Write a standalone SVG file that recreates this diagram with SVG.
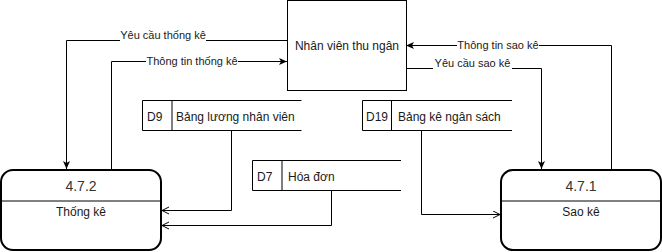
<svg xmlns="http://www.w3.org/2000/svg" width="662" height="252" viewBox="0 0 662 252">
  <style>
    text { font-family: "Liberation Sans", Arial, sans-serif; fill: #1a1a1a; }
    .lbl { font-size: 11px; text-anchor: middle; }
    .t12 { font-size: 12px; }
    .mid { text-anchor: middle; }
    .num { font-size: 14px; text-anchor: middle; fill: #333; }
    .proc { fill: #fff; stroke: #000; stroke-width: 2; }
    .box { fill: #fff; stroke: #000; stroke-width: 1; }
    .line { fill: none; stroke: #000; stroke-width: 1; }
    .flow { fill: none; stroke: #000; stroke-width: 1; marker-end: url(#solid); }
    .data { fill: none; stroke: #000; stroke-width: 1; marker-end: url(#open); }
    .bg { fill: #fff; }
  </style>
  <defs>
    <marker id="solid" markerUnits="userSpaceOnUse" markerWidth="10" markerHeight="10" refX="8" refY="3.5" orient="auto">
      <path d="M0,0 L8,3.5 L0,7 L2,3.5 Z" fill="#000"/>
    </marker>
    <marker id="open" markerUnits="userSpaceOnUse" markerWidth="10" markerHeight="10" refX="7.5" refY="4" orient="auto">
      <path d="M0.5,0.5 L7.5,4 L0.5,7.5" fill="none" stroke="#000" stroke-width="1"/>
    </marker>
  </defs>

  <!-- connectors -->
  <g id="connectors">
    <path class="flow" d="M287,40.5 H66.5 V169"/>
    <path class="flow" d="M111.5,169 V61.5 H287"/>
    <path class="flow" d="M611.5,169 V45.5 H406"/>
    <path class="flow" d="M406,68.5 H541.5 V169"/>
    <path class="data" d="M231.5,130.5 V210.5 H162"/>
    <path class="data" d="M331.5,190.5 V225.5 H162"/>
    <path class="data" d="M421.5,130.5 V214.5 H500"/>
    <rect class="bg" x="120" y="33" width="86" height="13"/>
    <text class="lbl" x="163" y="38.5">Yêu cầu thống kê</text>
    <rect class="bg" x="146" y="55" width="92" height="13"/>
    <text class="lbl" x="192" y="65">Thông tin thống kê</text>
    <rect class="bg" x="457" y="39" width="82" height="13"/>
    <text class="lbl" x="498" y="48.5">Thông tin sao kê</text>
    <rect class="bg" x="433" y="59" width="79" height="13"/>
    <text class="lbl" x="472.5" y="67">Yêu cầu sao kê</text>
  </g>

  <!-- external entity -->
  <g id="nhan-vien-thu-ngan">
    <rect class="box" x="287.5" y="0.5" width="119" height="90"/>
    <text class="t12 mid" x="347" y="49.5">Nhân viên thu ngân</text>
  </g>

  <!-- data stores -->
  <g id="d9">
    <path class="line" d="M301.5,100.5 H142.5 V130.5 H301.5 M172,100.5 V130.5"/>
    <text class="t12" x="147" y="121">D9</text>
    <text class="t12" x="176" y="121">Bảng lương nhân viên</text>
  </g>
  <g id="d7">
    <path class="line" d="M401,160.5 H252.5 V190.5 H401 M282,160.5 V190.5"/>
    <text class="t12" x="257" y="181">D7</text>
    <text class="t12" x="288" y="181">Hóa đơn</text>
  </g>
  <g id="d19">
    <path class="line" d="M512,100.5 H362.5 V130.5 H512 M391.5,100.5 V130.5"/>
    <text class="t12" x="366" y="121">D19</text>
    <text class="t12" x="398" y="121">Bảng kê ngân sách</text>
  </g>

  <!-- processes -->
  <g id="p472">
    <rect class="proc" x="1" y="170" width="160" height="80" rx="12"/>
    <path class="line" d="M1,201 H161" stroke-width="2"/>
    <text class="num" x="81" y="191">4.7.2</text>
    <text class="t12 mid" x="81" y="216" fill="#333">Thống kê</text>
  </g>
  <g id="p471">
    <rect class="proc" x="501" y="170" width="160" height="80" rx="12"/>
    <path class="line" d="M501,201 H661" stroke-width="2"/>
    <text class="num" x="581" y="191">4.7.1</text>
    <text class="t12 mid" x="581" y="216">Sao kê</text>
  </g>
</svg>
